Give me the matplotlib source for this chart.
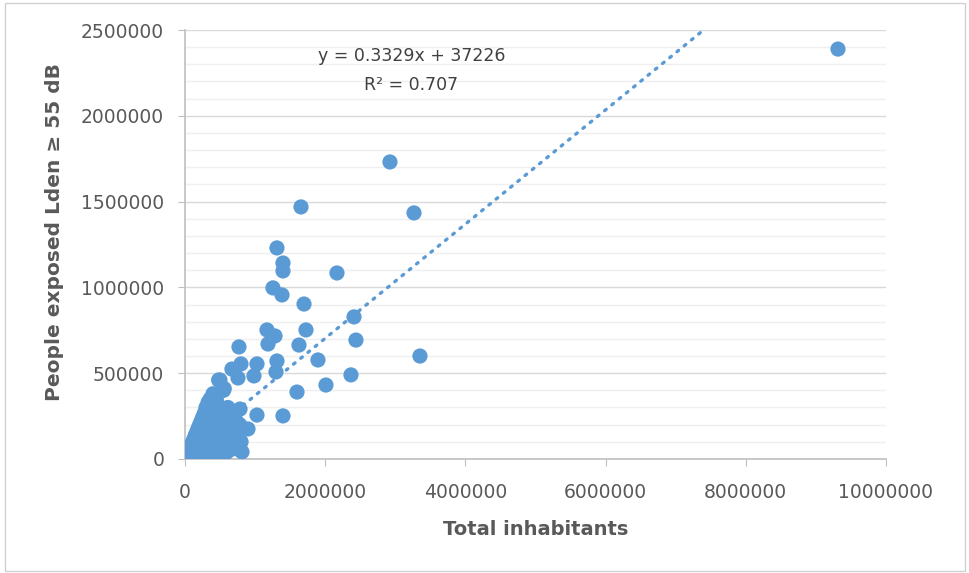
import matplotlib
matplotlib.use("Agg")
import matplotlib.pyplot as plt
from matplotlib.patches import Rectangle
from matplotlib.ticker import MultipleLocator

# scattered cities (total inhabitants, people exposed >= 55 dB)
big_x = [9315000, 2924000, 3267000, 1655000, 1312000, 1398000, 1398000, 2168000,
         1255000, 1384000, 1698000, 2411000, 1726000, 1170000, 1284000, 1184000,
         770000, 1626000, 2439000, 1027000, 1312000, 1897000, 799000, 3352000,
         670000, 984000, 1298000, 756000, 499000, 2368000, 2011000, 1598000,
         1027000, 1398000, 785000, 899000, 813000, 613000, 560000, 720000]
big_y = [2389000, 1731000, 1434000, 1469000, 1230000, 1142000, 1096000, 1084000,
         997000, 956000, 903000, 828000, 752000, 752000, 717000, 670000,
         653000, 664000, 693000, 554000, 571000, 577000, 554000, 600000,
         524000, 484000, 507000, 472000, 460000, 490000, 431000, 390000,
         256000, 251000, 291000, 175000, 41000, 300000, 410000, 200000]

# dense cluster of smaller cities near the origin
small_x = [20000, 40000, 50000, 60000, 70000, 80000, 90000, 100000, 100000, 110000,
           120000, 120000, 130000, 140000, 140000, 150000, 160000, 160000, 170000, 180000,
           180000, 190000, 200000, 200000, 210000, 220000, 220000, 230000, 240000, 240000,
           250000, 260000, 260000, 270000, 280000, 280000, 290000, 300000, 300000, 310000,
           320000, 330000, 330000, 340000, 350000, 360000, 360000, 370000, 380000, 390000,
           400000, 400000, 410000, 420000, 430000, 440000, 450000, 460000, 470000, 480000,
           490000, 500000, 510000, 520000, 530000, 550000, 560000, 580000, 600000, 620000,
           640000, 660000, 680000, 700000, 720000, 750000, 780000, 800000, 500000, 300000,
           400000, 600000, 700000, 30000, 60000, 90000, 250000, 350000, 450000, 650000]
small_y = [10000, 30000, 5000, 50000, 20000, 70000, 40000, 90000, 10000, 60000,
           110000, 30000, 80000, 130000, 5000, 50000, 150000, 100000, 20000, 170000,
           70000, 120000, 190000, 40000, 150000, 210000, 90000, 10000, 230000, 130000,
           60000, 250000, 180000, 100000, 270000, 30000, 210000, 150000, 300000, 80000,
           240000, 330000, 190000, 120000, 40000, 280000, 350000, 220000, 160000, 90000,
           310000, 380000, 250000, 190000, 130000, 60000, 340000, 280000, 220000, 460000,
           160000, 100000, 300000, 240000, 60000, 400000, 180000, 130000, 260000, 210000,
           90000, 150000, 190000, 120000, 230000, 160000, 200000, 100000, 20000, 10000,
           20000, 40000, 60000, 5000, 15000, 25000, 20000, 30000, 50000, 120000]

slope = 0.3329
intercept = 37226
r2 = 0.707

blue = "#5B9BD5"
gray = "#595959"

plt.rcParams['font.family'] = ['DejaVu Sans']
fig = plt.figure(figsize=(9.7, 5.73), dpi=100)
fig.patches.append(Rectangle((0.005, 0.004), 0.99, 0.99, transform=fig.transFigure,
                             fill=False, edgecolor="#d0d0d0", linewidth=1))
ax = fig.add_axes([0.1907, 0.199, 0.7227, 0.7486])

ax.set_xlim(0, 10000000)
ax.set_ylim(0, 2500000)
ax.xaxis.set_major_locator(MultipleLocator(2000000))
ax.yaxis.set_major_locator(MultipleLocator(500000))
ax.yaxis.set_minor_locator(MultipleLocator(100000))
ax.grid(which='major', axis='y', color="#d9d9d9", linewidth=1)
ax.grid(which='minor', axis='y', color="#efefef", linewidth=1)
ax.set_axisbelow(True)

for s in ['top', 'right']:
    ax.spines[s].set_visible(False)
for s in ['left', 'bottom']:
    ax.spines[s].set_color("#bfbfbf")
    ax.spines[s].set_linewidth(1.2)
ax.tick_params(which='major', length=5, color="#bfbfbf", labelcolor=gray,
               labelsize=13.5)
ax.tick_params(axis='y', pad=10)
ax.tick_params(axis='x', pad=12)
ax.tick_params(which='minor', length=0)
ax.ticklabel_format(style='plain')

ax.scatter(small_x, small_y, s=120, color=blue, edgecolors='none', zorder=3)
ax.scatter(big_x, big_y, s=120, color=blue, edgecolors='none', zorder=3)

x_end = (2500000 - intercept) / slope
ax.plot([0, x_end], [intercept, slope * x_end + intercept], color=blue,
        linestyle=(0, (0.6, 2.2)), linewidth=2.4, dash_capstyle='round', zorder=2)

ax.text(3230000, 2350000, f"y = {slope}x + {intercept}", ha='center', va='center',
        fontsize=12.5, color="#404040")
ax.text(3230000, 2180000, f"R² = {r2}", ha='center', va='center',
        fontsize=12.5, color="#404040")

ax.set_xlabel("Total inhabitants", fontsize=14, fontweight='bold', color=gray, labelpad=13)
ax.set_ylabel("People exposed Lden ≥ 55 dB", fontsize=14.5, fontweight='bold', color=gray)
ax.yaxis.set_label_coords(-0.172, 0.529)

fig.savefig("out.png", dpi=100)
